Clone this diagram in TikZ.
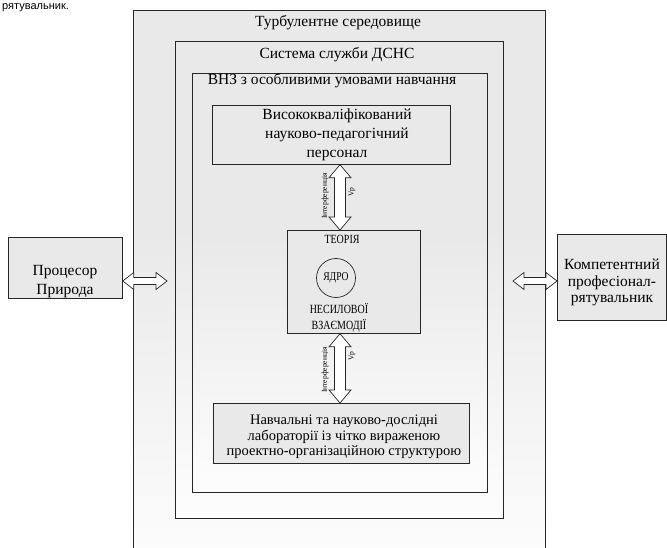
\documentclass[tikz,border=0pt]{standalone}
\usepackage{fontspec}
\setmainfont{Liberation Serif}
\newfontfamily\capsfont[FakeStretch=0.8]{Liberation Serif}
\newfontfamily\cutfont{Liberation Sans}
\usetikzlibrary{calc}
\definecolor{stip}{gray}{0.915}
\pgfdeclareverticalshading{fadeup}{100bp}{color(0bp)=(white); color(22bp)=(white); color(55bp)=(stip); color(100bp)=(stip)}
\newcommand{\hdarrow}[2]{\path[barrow] let \p1=(#1), \p2=(#2) in
  (\x1,\y1) -- (\x1+11pt,\y1+8.5pt) -- (\x1+11pt,\y1+3.5pt) -- (\x2-11pt,\y1+3.5pt) -- (\x2-11pt,\y1+8.5pt)
  -- (\x2,\y1) -- (\x2-11pt,\y1-8.5pt) -- (\x2-11pt,\y1-3.5pt) -- (\x1+11pt,\y1-3.5pt) -- (\x1+11pt,\y1-8.5pt) -- cycle;}
\newcommand{\vdarrow}[2]{\path[barrow] let \p1=(#1), \p2=(#2) in
  (\x1,\y1) -- (\x1+11pt,\y1-13pt) -- (\x1+5.5pt,\y1-13pt) -- (\x1+5.5pt,\y2+13pt) -- (\x1+11pt,\y2+13pt)
  -- (\x1,\y2) -- (\x1-11pt,\y2+13pt) -- (\x1-5.5pt,\y2+13pt) -- (\x1-5.5pt,\y1-13pt) -- (\x1-11pt,\y1-13pt) -- cycle;}
\begin{document}
\begin{tikzpicture}[x=1pt,y=-1pt,
  frame/.style={draw=black!85,line width=0.75pt,anchor=north west,inner sep=0pt},
  fbox/.style={frame,fill=stip},
  tbox/.style={font=\fontsize{15.5}{19}\selectfont,align=center,inner sep=0pt},
  capstext/.style={font=\capsfont\fontsize{12.5}{16}\selectfont,align=center,inner sep=0pt},
  barrow/.style={draw=black!85,fill=white,line width=0.7pt,line join=miter},
  tinylbl/.style={font=\fontsize{7.5}{8}\selectfont,rotate=90,inner sep=0pt}]
\clip (0,0) rectangle (667,548);
\useasboundingbox (0,0) rectangle (667,548);

% text left over from the page above
\node[font=\cutfont\fontsize{11}{12}\selectfont,anchor=base west,inner sep=0pt] (cut) at (2,9.5) {рятувальник.};

% nested containers
\node[frame,shading=fadeup,minimum width=412pt,minimum height=560pt] (outer) at (133,10) {};
\node[frame,shading=fadeup,minimum width=328pt,minimum height=477pt] (sys) at (175,41) {};
\node[frame,shading=fadeup,minimum width=295pt,minimum height=419pt] (vnz) at (192,73) {};

\node[tbox] (t1) at (338,23) {Турбулентне середовище};
\node[tbox] (t2) at (337,55) {Система служби ДСНС};
\node[tbox] (t3) at (332,81) {ВНЗ з особливими умовами навчання};

% inner boxes
\node[fbox,minimum width=238pt,minimum height=59pt] (hi) at (212,105) {};
\node[tbox] (hit) at (337,134.5) {Висококваліфікований\\науково-педагогічний\\персонал};

\node[fbox,minimum width=133pt,minimum height=103pt] (teo) at (287,230) {};
\node[capstext] (teot) at (342,239) {ТЕОРІЯ};
\node[draw=black!85,line width=0.7pt,circle,minimum size=39pt,inner sep=0pt,font=\capsfont\fontsize{12}{14}\selectfont] (core) at (336,278) {ЯДРО};
\node[capstext] (nst) at (339,317.5) {НЕСИЛОВОЇ\\ВЗАЄМОДІЇ};

\node[fbox,minimum width=256pt,minimum height=60pt] (lab) at (213,403) {};
\node[tbox,font=\fontsize{14.5}{15.5}\selectfont] (labt) at (344,437) {Навчальні та науково-дослідні\\лабораторії із чітко вираженою\\проектно-організаційною структурою};

% side boxes
\node[fbox,minimum width=114pt,minimum height=61pt] (proc) at (8,237) {};
\node[tbox] (proct) at (65,281.5) {Процесор\\Природа};
\node[fbox,minimum width=109pt,minimum height=86pt] (comp) at (557,234) {};
\node[tbox,font=\fontsize{15.5}{16.5}\selectfont] (compt) at (612,282.5) {Компетентний\\професіонал-\\рятувальник};

% axes for arrows
\coordinate (ax) at (340,0);
\coordinate (ay) at (0,281);
\coordinate (la) at (167,281);
\coordinate (ra) at (513,281);

\hdarrow{proc.east |- ay}{la}
\hdarrow{ra}{comp.west |- ay}
\vdarrow{hi.south -| ax}{teo.north -| ax}
\vdarrow{teo.south -| ax}{lab.north -| ax}

\node[tinylbl] (i1) at (325,196) {Інтерференція};
\node[tinylbl] (v1) at (352,192) {Vр};
\node[tinylbl] (i2) at (325,370) {Інтерференція};
\node[tinylbl] (v2) at (352,356) {Vр};
\end{tikzpicture}
\end{document}
